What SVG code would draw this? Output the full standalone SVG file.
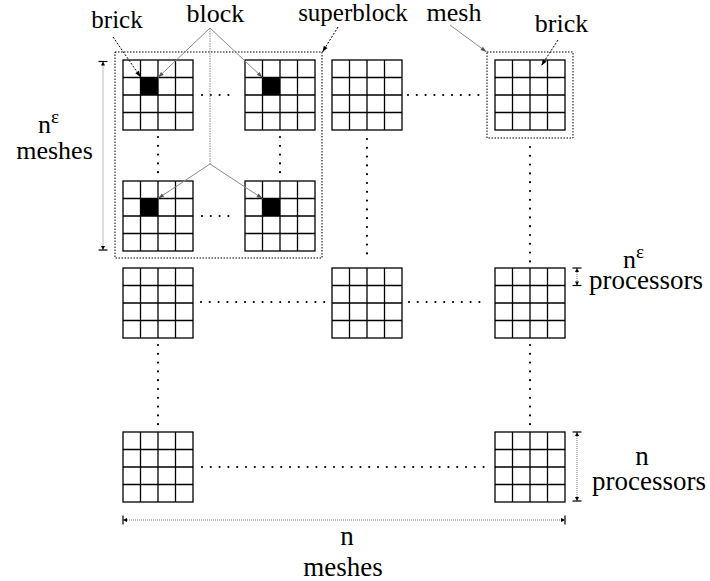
<svg xmlns="http://www.w3.org/2000/svg" width="710" height="581" viewBox="0 0 710 581">
  <defs>
    <style>
      .grid { fill: none; stroke: #000; stroke-width: 1.3; }
      .brick { fill: #000; }
      .dots { fill: none; stroke: #000; stroke-width: 2.2; stroke-linecap: round; stroke-dasharray: 0 8.8; }
      .box { fill: none; stroke: #000; stroke-width: 1; stroke-dasharray: 1.5 1.5; }
      .ptr { fill: none; stroke: #000; stroke-width: 1; stroke-dasharray: 2 1.5; }
      .gptr { fill: none; stroke: #8a8a8a; stroke-width: 1; }
      .gvert { fill: none; stroke: #8a8a8a; stroke-width: 1; stroke-dasharray: 1.5 1; }
      .dim { fill: none; stroke: #777; stroke-width: 1; stroke-dasharray: 1 1; }
      .lbl { font-family: "Liberation Serif", "Times New Roman", serif; fill: #000; }
    </style>
    <marker id="ah" markerUnits="userSpaceOnUse" markerWidth="10" markerHeight="10" viewBox="-8 -5 10 10" refX="0" refY="0" orient="auto">
      <path d="M-6,-2.2 L0,0 L-6,2.2 Z" fill="#000"/>
    </marker>
    <marker id="ahg" markerUnits="userSpaceOnUse" markerWidth="10" markerHeight="10" viewBox="-8 -5 10 10" refX="0" refY="0" orient="auto">
      <path d="M-6,-2 L0,0 L-6,2 Z" fill="#555"/>
    </marker>
    <marker id="dimEnd" markerUnits="userSpaceOnUse" markerWidth="12" markerHeight="12" viewBox="-8 -6 10 12" refX="0" refY="0" orient="auto-start-reverse">
      <path d="M-4,-2 L0,0 L-4,2 Z" fill="#000"/>
      <path d="M0,-4.5 V4.5" stroke="#000" stroke-width="1.2"/>
    </marker>
    <!-- 4x4 mesh of processors -->
    <g id="mesh">
      <rect class="grid" x="0" y="0" width="70" height="70"/>
      <path class="grid" d="M17.5,0 V70 M35,0 V70 M52.5,0 V70 M0,17.5 H70 M0,35 H70 M0,52.5 H70"/>
    </g>
  </defs>

  <!-- superblock and single-mesh outlines -->
  <g id="superblock">
    <rect class="box" x="115" y="52" width="207" height="206"/>
  </g>
  <g id="mesh-outline">
    <rect class="box" x="487" y="52" width="86" height="86"/>
  </g>

  <!-- meshes: row 1 -->
  <g id="m11"><use href="#mesh" x="123" y="60"/><rect class="brick" x="140.5" y="77.5" width="17.5" height="17.5"/></g>
  <g id="m12"><use href="#mesh" x="245" y="60"/><rect class="brick" x="262.5" y="77.5" width="17.5" height="17.5"/></g>
  <g id="m13"><use href="#mesh" x="332" y="60"/></g>
  <g id="m14"><use href="#mesh" x="495" y="60"/></g>
  <!-- row 2 (inside superblock) -->
  <g id="m21"><use href="#mesh" x="123" y="181"/><rect class="brick" x="140.5" y="198.5" width="17.5" height="17.5"/></g>
  <g id="m22"><use href="#mesh" x="245" y="181"/><rect class="brick" x="262.5" y="198.5" width="17.5" height="17.5"/></g>
  <!-- row 3 -->
  <g id="m31"><use href="#mesh" x="123" y="268"/></g>
  <g id="m32"><use href="#mesh" x="332" y="268"/></g>
  <g id="m33"><use href="#mesh" x="495" y="268"/></g>
  <!-- row 4 -->
  <g id="m41"><use href="#mesh" x="123" y="432"/></g>
  <g id="m42"><use href="#mesh" x="495" y="432"/></g>

  <g id="connectors">
    <!-- ellipsis dots between meshes -->
    <path class="dots" d="M202,95 H237"/>
    <path class="dots" d="M408,95 H480"/>
    <path class="dots" d="M202,216 H237"/>
    <path class="dots" d="M158,137 V173"/>
    <path class="dots" d="M280,137 V173"/>
    <path class="dots" d="M367,139 V262"/>
    <path class="dots" d="M530,147 V262"/>
    <path class="dots" d="M201,302 H325"/>
    <path class="dots" d="M409,302 H488"/>
    <path class="dots" d="M158,345 V425"/>
    <path class="dots" d="M530,345 V425"/>
    <path class="dots" d="M202,467 H488"/>

    <!-- label pointers -->
    <path class="ptr" d="M113,37 L140.5,77" marker-end="url(#ah)"/>
    <path class="gptr" d="M210,28 L158,77.5" marker-end="url(#ahg)"/>
    <path class="gptr" d="M210,28 L262.5,77.5" marker-end="url(#ahg)"/>
    <path class="gvert" d="M210,28 V164"/>
    <path class="gptr" d="M210,164 L158,198.5" marker-end="url(#ahg)"/>
    <path class="gptr" d="M210,164 L262.5,198.5" marker-end="url(#ahg)"/>
    <path class="ptr" d="M338,27 L322.5,52" marker-end="url(#ah)"/>
    <path class="gptr" d="M450,25 L486.5,52" marker-end="url(#ahg)"/>
    <path class="ptr" d="M558,40 L541.5,65.5" marker-end="url(#ah)"/>

    <!-- dimension lines -->
    <path class="dim" d="M103,61.5 V250" marker-start="url(#dimEnd)" marker-end="url(#dimEnd)"/>
    <path class="dim" d="M577,268 V285.5" marker-start="url(#dimEnd)" marker-end="url(#dimEnd)"/>
    <path class="dim" d="M577,432 V501" marker-start="url(#dimEnd)" marker-end="url(#dimEnd)"/>
    <path class="dim" d="M123,520 H565" marker-start="url(#dimEnd)" marker-end="url(#dimEnd)"/>
  </g>

  <!-- labels -->
  <g id="labels">
    <text class="lbl" x="117" y="28" text-anchor="middle" font-size="25">brick</text>
    <text class="lbl" x="215.5" y="22" text-anchor="middle" font-size="26">block</text>
    <text class="lbl" x="353" y="21" text-anchor="middle" font-size="25">superblock</text>
    <text class="lbl" x="454" y="21" text-anchor="middle" font-size="26">mesh</text>
    <text class="lbl" x="561.5" y="32" text-anchor="middle" font-size="26">brick</text>

    <text class="lbl" x="38" y="133" font-size="26">n<tspan font-size="19" dy="-10">ε</tspan></text>
    <text class="lbl" x="54.5" y="159" text-anchor="middle" font-size="26">meshes</text>

    <text class="lbl" x="623" y="268" font-size="26">n<tspan font-size="19" dy="-10">ε</tspan></text>
    <text class="lbl" x="646" y="289" text-anchor="middle" font-size="27">processors</text>

    <text class="lbl" x="642" y="465" text-anchor="middle" font-size="27">n</text>
    <text class="lbl" x="649" y="490" text-anchor="middle" font-size="27">processors</text>

    <text class="lbl" x="347" y="545" text-anchor="middle" font-size="27">n</text>
    <text class="lbl" x="343" y="576" text-anchor="middle" font-size="27">meshes</text>
  </g>
</svg>
